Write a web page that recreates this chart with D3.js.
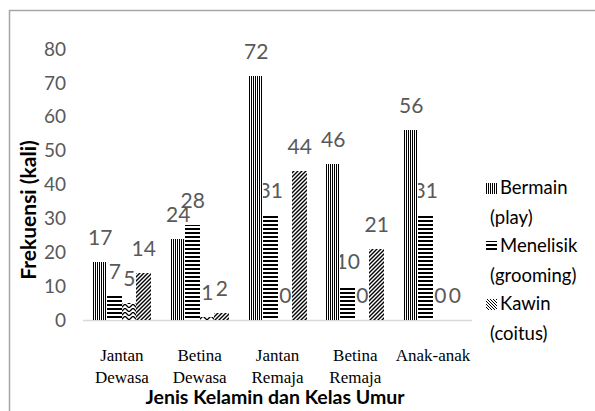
<!DOCTYPE html>
<html>
<head>
<meta charset="utf-8">
<script src="https://cdn.jsdelivr.net/npm/d3@7"></script>
<style>
  body { margin: 0; background: #fff; }
  svg { display: block; }
</style>
</head>
<body>
<script>
const categories = [["Jantan", "Dewasa"], ["Betina", "Dewasa"], ["Jantan", "Remaja"], ["Betina", "Remaja"], ["Anak-anak"]];
const seriesNames = ["Bermain", "Menelisik", "Lainnya", "Kawin"];
const bermain   = [17, 24, 72, 46, 56];
const menelisik = [7, 28, 31, 10, 31];
const lainnya   = [5, 1, 0, 0, 0];
const kawin     = [14, 2, 44, 21, 0];
const yTicks = [0, 10, 20, 30, 40, 50, 60, 70, 80];
const legendItems = [["Bermain", "(play)"], ["Menelisik", "(grooming)"], ["Kawin", "(coitus)"]];

const values = [bermain, menelisik, lainnya, kawin];
const data = categories.map((c, i) => ({cat: c.join(" "), lines: c, vals: values.map(v => v[i])}));

const W = 595, H = 411;
const sans = "Lato, 'Open Sans', sans-serif";
const svg = d3.select("body").append("svg").attr("width", W).attr("height", H);

// patterns
const defs = svg.append("defs");
const pVert = defs.append("pattern").attr("id", "p0").attr("patternUnits", "userSpaceOnUse")
    .attr("width", 2).attr("height", 4);
pVert.append("rect").attr("width", 2).attr("height", 4).attr("fill", "#fff");
pVert.append("rect").attr("width", 1).attr("height", 4).attr("fill", "#000");

const pHor = defs.append("pattern").attr("id", "p1").attr("patternUnits", "userSpaceOnUse")
    .attr("width", 4).attr("height", 4);
pHor.append("rect").attr("width", 4).attr("height", 4).attr("fill", "#fff");
pHor.append("rect").attr("width", 4).attr("height", 2).attr("fill", "#000");

const pZig = defs.append("pattern").attr("id", "p2").attr("patternUnits", "userSpaceOnUse")
    .attr("width", 8).attr("height", 4);
pZig.append("rect").attr("width", 8).attr("height", 4).attr("fill", "#fff");
pZig.append("path").attr("d", "M0,0 L4,4 L8,0").attr("fill", "none").attr("stroke", "#000").attr("stroke-width", 1.3);

const pDiag = defs.append("pattern").attr("id", "p3").attr("patternUnits", "userSpaceOnUse")
    .attr("width", 4).attr("height", 4);
pDiag.append("rect").attr("width", 4).attr("height", 4).attr("fill", "#fff");
pDiag.append("path").attr("d", "M-1,1 L1,-1 M0,4 L4,0 M3,5 L5,3").attr("stroke", "#000").attr("stroke-width", 1.4);

const pDiagB = defs.append("pattern").attr("id", "pl").attr("patternUnits", "userSpaceOnUse")
    .attr("width", 3).attr("height", 3);
pDiagB.append("rect").attr("width", 3).attr("height", 3).attr("fill", "#fff");
pDiagB.append("path").attr("d", "M-1,2 L1,4 M0,0 L3,3 M2,-1 L4,1").attr("stroke", "#000").attr("stroke-width", 1);

// outer border
svg.append("rect").attr("x", 9.5).attr("y", 10.5).attr("width", 640).attr("height", 440)
    .attr("fill", "none").attr("stroke", "#a6a6a6").attr("stroke-width", 1.5);

const x0 = d3.scaleBand().domain(data.map(d => d.cat)).range([83, 472])
    .paddingInner(0.2545).paddingOuter(0.12725);
const x1 = d3.scaleBand().domain(d3.range(seriesNames.length)).range([0, x0.bandwidth()]);
const y = d3.scaleLinear().domain([0, 80]).range([320, 49]);

// y ticks
svg.append("g").selectAll("text").data(yTicks).join("text")
    .attr("x", 66).attr("y", d => y(d)).attr("dy", "0.35em")
    .attr("text-anchor", "end")
    .attr("font-family", sans)
    .attr("font-size", 19).attr("fill", "#595959")
    .text(d => d);

// baseline
svg.append("line").attr("x1", 83).attr("x2", 472).attr("y1", y(0) + 0.5).attr("y2", y(0) + 0.5)
    .attr("stroke", "#d9d9d9").attr("stroke-width", 1.5);

const groups = svg.append("g").selectAll("g").data(data).join("g")
    .attr("transform", d => `translate(${Math.round(x0(d.cat))},0)`);

// value labels (drawn under the bars)
groups.selectAll("text").data(d => d.vals).join("text")
    .attr("x", (v, i) => x1(i) + x1.bandwidth() / 2)
    .attr("y", v => y(v) - 17)
    .attr("text-anchor", "middle")
    .attr("font-family", sans)
    .attr("font-size", 21).attr("fill", "#595959")
    .text(v => v);

groups.selectAll("rect").data(d => d.vals).join("rect")
    .attr("x", (v, i) => Math.round(x1(i)))
    .attr("y", v => Math.round(y(v)))
    .attr("width", (v, i) => Math.round(x1(i) + x1.bandwidth()) - Math.round(x1(i)))
    .attr("height", v => Math.round(y(0)) - Math.round(y(v)))
    .attr("fill", (v, i) => `url(#p${i})`);

// category labels
const catLab = svg.append("g").selectAll("text").data(data).join("text")
    .attr("x", d => x0(d.cat) + x0.bandwidth() / 2)
    .attr("y", 361)
    .attr("text-anchor", "middle")
    .attr("font-family", "'Liberation Serif', serif")
    .attr("font-size", 17).attr("fill", "#000");
catLab.selectAll("tspan").data(d => d.lines).join("tspan")
    .attr("x", function() { return d3.select(this.parentNode).attr("x"); })
    .attr("dy", (l, i) => i ? 22 : 0)
    .text(l => l);

// axis titles
svg.append("text").attr("x", 275).attr("y", 404).attr("text-anchor", "middle")
    .attr("font-family", sans)
    .attr("font-weight", "bold").attr("font-size", 19.5).attr("fill", "#000")
    .text("Jenis Kelamin dan Kelas Umur");

svg.append("text").attr("transform", "translate(36,210) rotate(-90)").attr("text-anchor", "middle")
    .attr("font-family", sans)
    .attr("font-weight", "bold").attr("font-size", 21).attr("fill", "#000")
    .text("Frekuensi (kali)");

// legend
const legendFill = ["url(#p0)", "url(#p1)", "url(#pl)"];
const leg = svg.append("g").selectAll("g").data(legendItems).join("g")
    .attr("transform", (d, i) => `translate(486,${194 + i * 58})`);
leg.append("rect").attr("x", 0).attr("y", -11).attr("width", 11).attr("height", 11)
    .attr("fill", (d, i) => legendFill[i]);
leg.append("text").attr("x", 14).attr("y", 0)
    .attr("font-family", sans)
    .attr("font-size", 18.5).attr("fill", "#000")
    .text(d => d[0]);
leg.append("text").attr("x", 4).attr("y", 30)
    .attr("font-family", sans)
    .attr("font-size", 18.5).attr("fill", "#000")
    .text(d => d[1]);
</script>
</body>
</html>
